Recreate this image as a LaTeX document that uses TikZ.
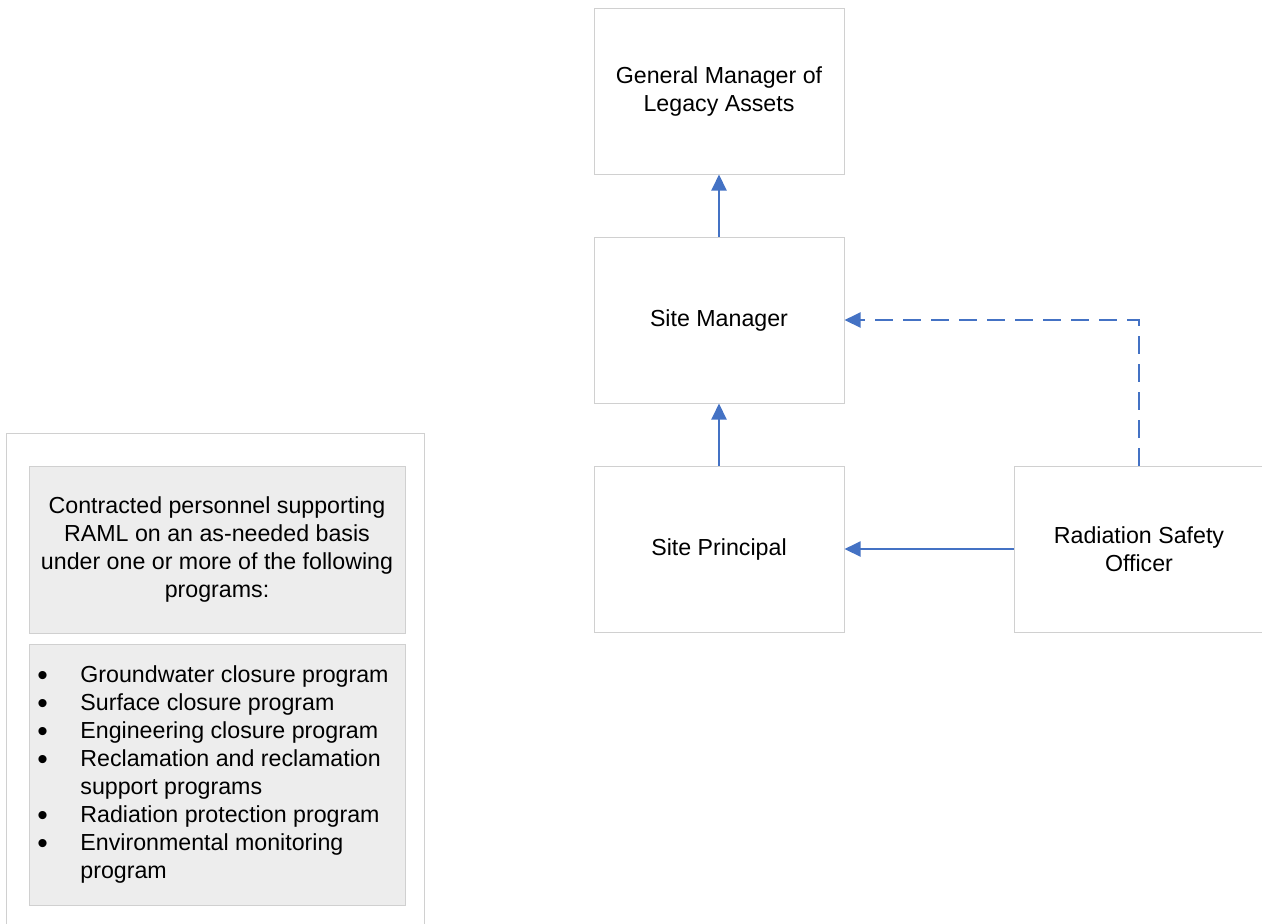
\documentclass[tikz,border=0pt]{standalone}
\usepackage{fontspec}
\setmainfont{Liberation Sans}
\usetikzlibrary{arrows.meta}

\definecolor{boxgray}{RGB}{208,208,208}
\definecolor{panelfill}{RGB}{237,237,237}
\definecolor{linkblue}{RGB}{68,114,196}

\newcommand{\prog}[1]{\makebox[21.5pt][l]{\raisebox{-1.6pt}{\fontsize{15}{14}\selectfont\textbullet}}#1}
\newcommand{\progcont}[1]{\hspace*{21.5pt}#1}

\begin{document}
\begin{tikzpicture}[x=0.5pt, y=-0.5pt, >={Triangle[length=8pt,width=7.5pt]},
    font=\fontsize{11.6}{14}\selectfont,
    role/.style={draw=boxgray, line width=0.5pt, fill=white, minimum width=125pt,
      minimum height=83pt, align=center, inner sep=0pt},
    panel/.style={draw=boxgray, line width=0.5pt, fill=panelfill, minimum width=188pt,
      inner sep=0pt, align=center},
    link/.style={->, draw=linkblue, line width=1pt}]
  \clip (0,0) rectangle (1262,923);
  \useasboundingbox (0,0) rectangle (1262,923);

  % Chain of reporting boxes
  \node[role] (gm)  at (719,91)  {General Manager of\\Legacy Assets};
  \node[role] (sm)  at (719,320) {Site Manager};
  \node[role] (sp)  at (719,549) {Site Principal};
  \node[role] (rso) at (1139,549) {Radiation Safety\\Officer};

  % Reporting lines
  \draw[link] (sm.north) -- (gm.south);
  \draw[link] (sp.north) -- (sm.south);
  \draw[link] (rso.west) -- (sp.east);
  \draw[link, dash pattern=on 9pt off 5pt] (rso.north) |- (sm.east);

  % Contracted personnel panel
  \draw[boxgray, line width=0.5pt] (6,928) -- (6,433) -- (424,433) -- (424,928);
  \node[panel, minimum height=83.5pt] (contract) at (217,549.5)
    {Contracted personnel supporting\\RAML on an as-needed basis\\under one or more of the following\\programs:};
  \node[panel, minimum height=130.5pt] (proglist) at (217,774.5) {};
  \node[anchor=west, align=left, inner sep=0pt] (progtext) at (37,774)
    {\prog{Groundwater closure program}\\
     \prog{Surface closure program}\\
     \prog{Engineering closure program}\\
     \prog{Reclamation and reclamation}\\
     \progcont{support programs}\\
     \prog{Radiation protection program}\\
     \prog{Environmental monitoring}\\
     \progcont{program}};
\end{tikzpicture}
\end{document}
